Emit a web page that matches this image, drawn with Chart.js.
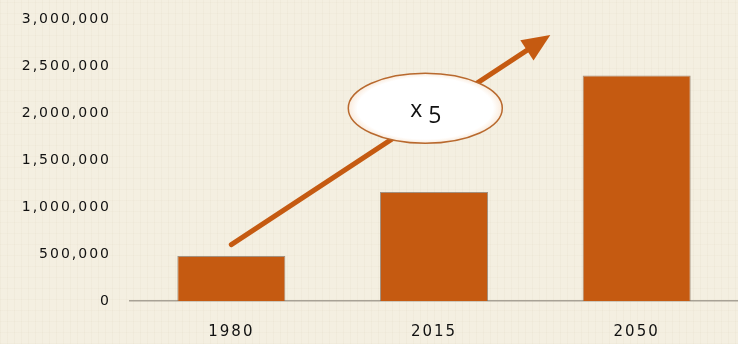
<!DOCTYPE html>
<html>
<head>
<meta charset="utf-8">
<script src="https://cdn.jsdelivr.net/npm/chart.js@4"></script>
<style>
  html, body { margin: 0; padding: 0; }
  body {
    width: 738px; height: 344px; overflow: hidden;
    background-color: #F4EFE1;
    background-image:
      repeating-linear-gradient(90deg, rgba(170,150,110,0.05) 0px, rgba(170,150,110,0.05) 1px, transparent 1px, transparent 7px),
      repeating-linear-gradient(0deg, rgba(170,150,110,0.04) 0px, rgba(170,150,110,0.04) 1px, transparent 1px, transparent 11px);
  }
  #wrap { position: relative; width: 738px; height: 344px; }
</style>
</head>
<body>
<div id="wrap"><canvas id="c" width="738" height="344"></canvas></div>
<script>
// ---- data ----
const categories = ["1980", "2015", "2050"];
const values = [480000, 1160000, 2400000];
const yTicks = [0, 500000, 1000000, 1500000, 2000000, 2500000, 3000000];
const multiplierLabel = "x 5";

// annotation anchors in data space (category index, value)
const arrowStart = [0, 600000];
const arrowEnd = [1.574, 2830000];
const ellipseCenter = [0.957, 2050000];

const barColor = "#C55A11";
const tickFont = "'DejaVu Sans', sans-serif";

const spacingPlugin = {
  id: "letterSpacing",
  beforeLayout(chart) { chart.ctx.letterSpacing = "2px"; },
  beforeDraw(chart) { chart.ctx.letterSpacing = "2px"; }
};

const annotationPlugin = {
  id: "arrowAnnotation",
  afterDatasetsDraw(chart) {
    const ctx = chart.ctx;
    const xs = chart.scales.x, ys = chart.scales.y;
    const x1 = xs.getPixelForValue(arrowStart[0]), y1 = ys.getPixelForValue(arrowStart[1]);
    const x2 = xs.getPixelForValue(arrowEnd[0]), y2 = ys.getPixelForValue(arrowEnd[1]);
    const ang = Math.atan2(y2 - y1, x2 - x1);
    const headLen = 28, headHalf = 12;
    const bx = x2 - headLen * Math.cos(ang), by = y2 - headLen * Math.sin(ang);
    ctx.save();
    ctx.letterSpacing = "0px";
    ctx.strokeStyle = barColor;
    ctx.fillStyle = barColor;
    ctx.lineWidth = 5;
    ctx.lineCap = "round";
    ctx.beginPath();
    ctx.moveTo(x1, y1);
    ctx.lineTo(bx + 4 * Math.cos(ang), by + 4 * Math.sin(ang));
    ctx.stroke();
    ctx.beginPath();
    ctx.moveTo(x2, y2);
    ctx.lineTo(bx + headHalf * Math.sin(ang), by - headHalf * Math.cos(ang));
    ctx.lineTo(bx - headHalf * Math.sin(ang), by + headHalf * Math.cos(ang));
    ctx.closePath();
    ctx.fill();

    // ellipse
    const cx = xs.getPixelForValue(ellipseCenter[0]), cy = ys.getPixelForValue(ellipseCenter[1]);
    const rx = 77, ry = 35;
    ctx.save();
    ctx.translate(cx, cy);
    ctx.scale(1, ry / rx);
    const g = ctx.createRadialGradient(0, 0, 0, 0, 0, rx);
    g.addColorStop(0, "#FFFFFF");
    g.addColorStop(0.88, "#FFFFFF");
    g.addColorStop(1, "#FAEBDC");
    ctx.beginPath();
    ctx.arc(0, 0, rx, 0, Math.PI * 2);
    ctx.fillStyle = g;
    ctx.fill();
    ctx.restore();
    ctx.beginPath();
    ctx.ellipse(cx, cy, rx, ry, 0, 0, Math.PI * 2);
    ctx.strokeStyle = "#B8692E";
    ctx.lineWidth = 1.5;
    ctx.stroke();

    // text
    ctx.fillStyle = "#111";
    ctx.textBaseline = "alphabetic";
    const parts = multiplierLabel.split(" ");
    ctx.font = "500 23px 'Open Sans', sans-serif";
    ctx.textAlign = "right";
    ctx.fillText(parts[0], cx - 3, cy + 9);
    ctx.font = "500 23px 'Open Sans', sans-serif";
    ctx.textAlign = "left";
    ctx.fillText(parts[1], cx + 3, cy + 15);
    ctx.restore();
  }
};

new Chart(document.getElementById("c"), {
  type: "bar",
  data: {
    labels: categories,
    datasets: [{
      data: values,
      backgroundColor: barColor,
      borderColor: "rgba(130,105,85,0.7)",
      borderWidth: 1,
      borderSkipped: "bottom",
      categoryPercentage: 1,
      barPercentage: 0.533
    }]
  },
  options: {
    responsive: false,
    animation: false,
    devicePixelRatio: 1,
    layout: { padding: { top: 19, right: 0, left: 0, bottom: 0 } },
    plugins: { legend: { display: false }, tooltip: { enabled: false } },
    scales: {
      x: {
        afterFit(s) { s.height = 43; s.paddingLeft = 0; s.paddingRight = 0; },
        grid: { display: false, drawTicks: false },
        border: { display: true, color: "#A8A296", width: 1.5 },
        ticks: { color: "#111", padding: 22, font: { family: tickFont, size: 15 } }
      },
      y: {
        min: 0, max: 3000000,
        afterFit(s) { s.width = 130; s.paddingTop = 0; s.paddingBottom = 0; },
        afterBuildTicks(s) { s.ticks = yTicks.map(v => ({ value: v })); },
        grid: { display: false, drawTicks: false },
        border: { display: false },
        ticks: {
          color: "#111", padding: 19,
          font: { family: tickFont, size: 14 },
          callback: v => v.toLocaleString("en-US")
        }
      }
    }
  },
  plugins: [spacingPlugin, annotationPlugin]
});
</script>
</body>
</html>
